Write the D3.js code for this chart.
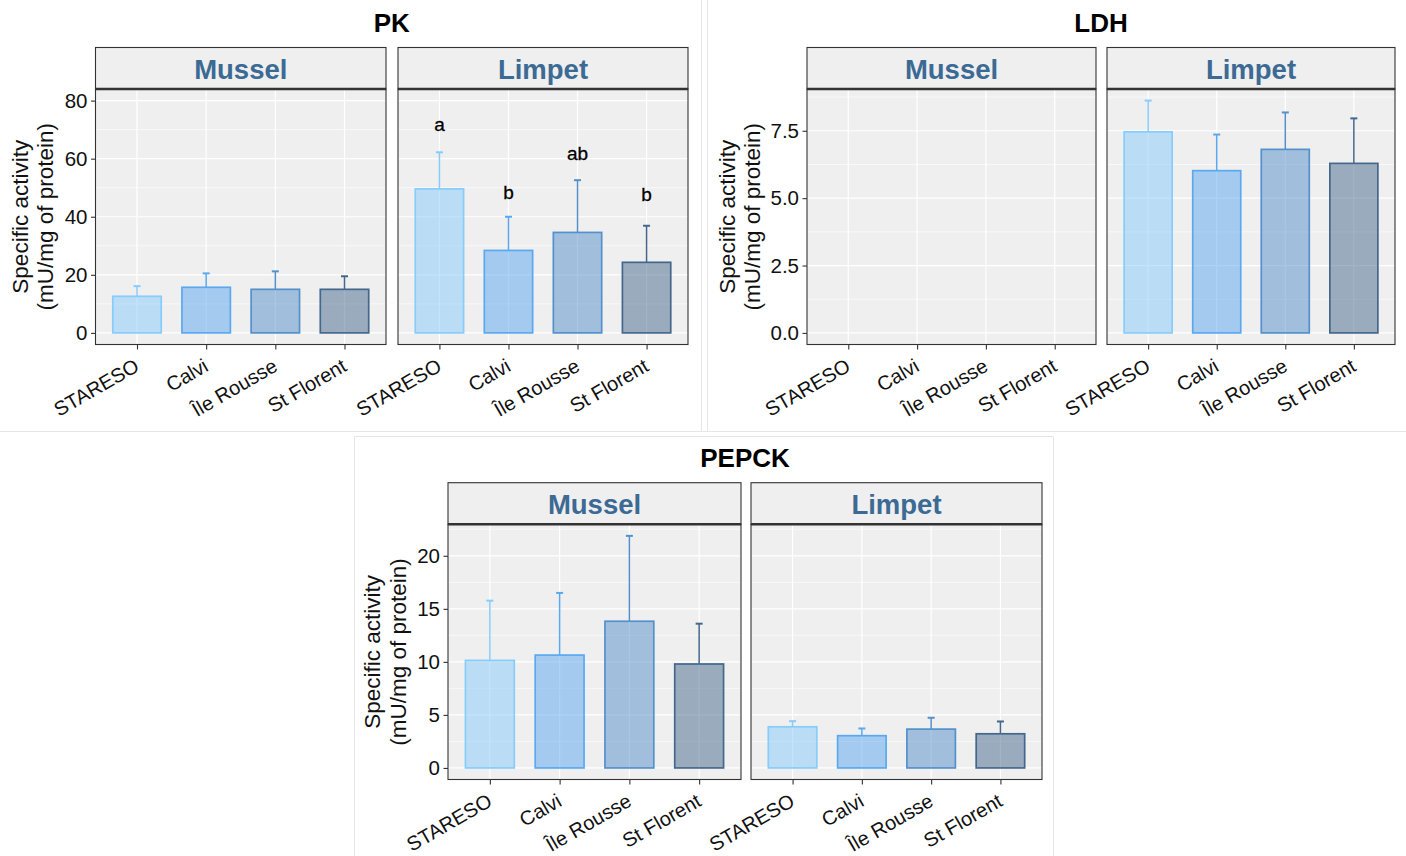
<!DOCTYPE html>
<html>
<head>
<meta charset="utf-8">
<script src="https://cdn.jsdelivr.net/npm/d3@7"></script>
<style>
  html, body { margin: 0; padding: 0; background: #fff; }
  svg { display: block; font-family: "Liberation Sans", Arial, sans-serif; }
</style>
</head>
<body>
<svg id="chart" width="1406" height="856"></svg>
<script>
// ---------------- DATA ----------------
const sites = ["STARESO", "Calvi", "Île Rousse", "St Florent"];
const species = ["Mussel", "Limpet"];
const siteColors = ["#86ccfc", "#5aa8f0", "#5490cc", "#44678c"];

// PK (means and SD, mU/mg of protein)
const pkMusselMean = [12.6, 15.7, 15.0, 15.0];
const pkMusselSD   = [3.5, 4.8, 6.2, 4.5];
const pkLimpetMean = [49.6, 28.4, 34.6, 24.3];
const pkLimpetSD   = [12.6, 11.6, 18.0, 12.6];
const pkLimpetLetters = ["a", "b", "ab", "b"];
const pkLimpetLetterY = [69.5, 46, 59.5, 45.5];
const pkTicks = [0, 20, 40, 60, 80];
const pkMinor = [10, 30, 50, 70];

// LDH (no mussel data)
const ldhMusselMean = [];
const ldhMusselSD   = [];
const ldhLimpetMean = [7.46, 6.02, 6.81, 6.29];
const ldhLimpetSD   = [1.16, 1.34, 1.37, 1.67];
const ldhTicks = [0, 2.5, 5, 7.5];
const ldhMinor = [1.25, 3.75, 6.25, 8.75];

// PEPCK
const pepckMusselMean = [10.14, 10.64, 13.83, 9.80];
const pepckMusselSD   = [5.63, 5.86, 8.05, 3.80];
const pepckLimpetMean = [3.88, 3.04, 3.66, 3.22];
const pepckLimpetSD   = [0.53, 0.68, 1.07, 1.16];
const pepckTicks = [0, 5, 10, 15, 20];
const pepckMinor = [2.5, 7.5, 12.5, 17.5, 22.5];

const yTitle = ["Specific activity", "(mU/mg of protein)"];

// ---------------- DRAWING ----------------
const svg = d3.select("#chart");
svg.append("rect").attr("width", 1406).attr("height", 856).attr("fill", "#fff");

// faint sub-figure borders
const sep = svg.append("g").attr("stroke", "#e6e6e6").attr("stroke-width", 1);
sep.append("line").attr("x1", 701.5).attr("x2", 701.5).attr("y1", 0).attr("y2", 431);
sep.append("line").attr("x1", 707.5).attr("x2", 707.5).attr("y1", 0).attr("y2", 431);
sep.append("line").attr("x1", 0).attr("x2", 1406).attr("y1", 431.5).attr("y2", 431.5);
sep.append("line").attr("x1", 354.5).attr("x2", 1053).attr("y1", 436.5).attr("y2", 436.5);
sep.append("line").attr("x1", 354.5).attr("x2", 354.5).attr("y1", 436.5).attr("y2", 856);
sep.append("line").attr("x1", 1053.5).attr("x2", 1053.5).attr("y1", 436.5).attr("y2", 856);

function drawFigure(cfg) {
  const g = svg.append("g");
  const y = d3.scaleLinear().domain(cfg.domain).range([cfg.plotBottom, cfg.plotTop]);

  // title
  g.append("text")
    .attr("x", (cfg.panels[0].x0 + cfg.panels[1].x1) / 2)
    .attr("y", cfg.titleY)
    .attr("text-anchor", "middle")
    .attr("font-size", 26).attr("font-weight", "bold").attr("fill", "#000")
    .text(cfg.title);

  cfg.panels.forEach((p, pi) => {
    const x = d3.scalePoint().domain(sites).range([p.x0, p.x1]).padding(0.6);
    const bw = x.step() * 0.7;
    const pg = g.append("g");

    // background
    pg.append("rect").attr("x", p.x0).attr("y", cfg.plotTop)
      .attr("width", p.x1 - p.x0).attr("height", cfg.plotBottom - cfg.plotTop)
      .attr("fill", "#efefef");
    // minor grid
    pg.selectAll(".minor").data(cfg.minor.filter(v => y(v) > cfg.plotTop)).join("line")
      .attr("x1", p.x0).attr("x2", p.x1).attr("y1", d => y(d)).attr("y2", d => y(d))
      .attr("stroke", "#fff").attr("stroke-width", 0.6);
    // major grid
    pg.selectAll(".major").data(cfg.ticks).join("line")
      .attr("x1", p.x0).attr("x2", p.x1).attr("y1", d => y(d)).attr("y2", d => y(d))
      .attr("stroke", "#fff").attr("stroke-width", 1.2);
    pg.selectAll(".vgrid").data(sites).join("line")
      .attr("x1", d => x(d)).attr("x2", d => x(d)).attr("y1", cfg.plotTop).attr("y2", cfg.plotBottom)
      .attr("stroke", "#fff").attr("stroke-width", 1.2);

    const rows = p.mean.map((m, i) => ({ site: sites[i], mean: m, sd: p.sd[i], color: siteColors[i] }));

    // bars
    pg.selectAll(".bar").data(rows).join("rect")
      .attr("x", d => x(d.site) - bw / 2).attr("y", d => y(d.mean))
      .attr("width", bw).attr("height", d => y(0) - y(d.mean))
      .attr("fill", d => d.color).attr("fill-opacity", 0.5)
      .attr("stroke", d => d.color).attr("stroke-width", 1.7);
    // error bars (upper only)
    pg.selectAll(".err").data(rows).join("line")
      .attr("x1", d => x(d.site)).attr("x2", d => x(d.site))
      .attr("y1", d => y(d.mean)).attr("y2", d => y(d.mean + d.sd))
      .attr("stroke", d => d.color).attr("stroke-width", 1.5);
    pg.selectAll(".cap").data(rows).join("line")
      .attr("x1", d => x(d.site) - 3.5).attr("x2", d => x(d.site) + 3.5)
      .attr("y1", d => y(d.mean + d.sd)).attr("y2", d => y(d.mean + d.sd))
      .attr("stroke", d => d.color).attr("stroke-width", 2);

    // significance letters
    if (p.letters) {
      pg.selectAll(".letter").data(p.letters).join("text")
        .attr("x", (d, i) => x(sites[i])).attr("y", (d, i) => y(p.letterY[i]))
        .attr("text-anchor", "middle").attr("font-size", 19).attr("fill", "#000")
        .attr("stroke", "#000").attr("stroke-width", 0.3)
        .text(d => d);
    }

    // panel border
    pg.append("rect").attr("x", p.x0).attr("y", cfg.plotTop)
      .attr("width", p.x1 - p.x0).attr("height", cfg.plotBottom - cfg.plotTop)
      .attr("fill", "none").attr("stroke", "#333").attr("stroke-width", 1.1);

    // strip
    pg.append("rect").attr("x", p.x0).attr("y", cfg.stripTop)
      .attr("width", p.x1 - p.x0).attr("height", cfg.plotTop - cfg.stripTop)
      .attr("fill", "#efefef").attr("stroke", "#333").attr("stroke-width", 1.1);
    pg.append("line").attr("x1", p.x0).attr("x2", p.x1)
      .attr("y1", cfg.plotTop).attr("y2", cfg.plotTop)
      .attr("stroke", "#333").attr("stroke-width", 2.6);
    pg.append("text")
      .attr("x", (p.x0 + p.x1) / 2).attr("y", (cfg.stripTop + cfg.plotTop) / 2 + 10.5)
      .attr("text-anchor", "middle").attr("font-size", 27.5).attr("font-weight", "bold")
      .attr("fill", "#3b6a94").text(p.name);

    // x axis
    const xa = pg.append("g").attr("transform", `translate(0,${cfg.plotBottom})`)
      .call(d3.axisBottom(x).tickSize(5).tickSizeOuter(0));
    xa.select(".domain").remove();
    xa.selectAll(".tick line").attr("stroke", "#333").attr("stroke-width", 1.1);
    xa.selectAll(".tick text")
      .attr("x", 0).attr("y", 0).attr("dy", null)
      .attr("transform", "translate(3,25.5) rotate(-30)")
      .attr("text-anchor", "end").attr("font-size", 20).attr("fill", "#111")
      .attr("font-family", "Liberation Sans, Arial, sans-serif");

    // y axis
    if (pi === 0) {
      const ya = pg.append("g").attr("transform", `translate(${p.x0},0)`)
        .call(d3.axisLeft(y).tickValues(cfg.ticks).tickFormat(cfg.fmt).tickSize(4.5).tickPadding(3.5));
      ya.select(".domain").remove();
      ya.selectAll(".tick line").attr("stroke", "#333").attr("stroke-width", 1.1);
      ya.selectAll(".tick text").attr("font-size", 20.5).attr("fill", "#111")
        .attr("font-family", "Liberation Sans, Arial, sans-serif");

      const cy = (cfg.plotTop + cfg.plotBottom) / 2;
      yTitle.forEach((t, li) => {
        g.append("text")
          .attr("transform", `translate(${p.x0 + cfg.yTitleOffsets[li]},${cy}) rotate(-90)`)
          .attr("text-anchor", "middle").attr("font-size", 22.5).attr("fill", "#111")
          .text(t);
      });
    }
  });
}

drawFigure({
  title: "PK", titleY: 31.5,
  stripTop: 47.5, plotTop: 89, plotBottom: 344.5,
  domain: [-4, 84], ticks: pkTicks, minor: pkMinor, fmt: d3.format("d"),
  yTitleOffsets: [-67.5, -42.5],
  panels: [
    { name: species[0], x0: 95.5, x1: 386, mean: pkMusselMean, sd: pkMusselSD },
    { name: species[1], x0: 398, x1: 688, mean: pkLimpetMean, sd: pkLimpetSD,
      letters: pkLimpetLetters, letterY: pkLimpetLetterY }
  ]
});

drawFigure({
  title: "LDH", titleY: 31.5,
  stripTop: 47.5, plotTop: 89, plotBottom: 344.5,
  domain: [-0.43, 9.05], ticks: ldhTicks, minor: ldhMinor, fmt: d3.format(".1f"),
  yTitleOffsets: [-72, -47],
  panels: [
    { name: species[0], x0: 807, x1: 1096, mean: ldhMusselMean, sd: ldhMusselSD },
    { name: species[1], x0: 1107, x1: 1395, mean: ldhLimpetMean, sd: ldhLimpetSD }
  ]
});

drawFigure({
  title: "PEPCK", titleY: 467,
  stripTop: 482.7, plotTop: 524.3, plotBottom: 779.5,
  domain: [-1.09, 22.97], ticks: pepckTicks, minor: pepckMinor, fmt: d3.format("d"),
  yTitleOffsets: [-68, -42],
  panels: [
    { name: species[0], x0: 448, x1: 741, mean: pepckMusselMean, sd: pepckMusselSD },
    { name: species[1], x0: 751, x1: 1042, mean: pepckLimpetMean, sd: pepckLimpetSD }
  ]
});
</script>
</body>
</html>
